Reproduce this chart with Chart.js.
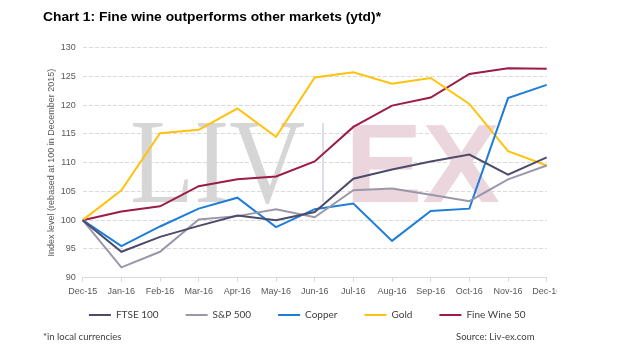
<!DOCTYPE html>
<html>
<head>
<meta charset="utf-8">
<script src="https://cdn.jsdelivr.net/npm/chart.js@4/dist/chart.umd.min.js"></script>
<style>
html,body{margin:0;padding:0;background:#fff;}
#wrap{width:620px;height:357px;position:relative;}
</style>
</head>
<body>
<div id="wrap"><canvas id="c" width="620" height="357"></canvas></div>
<script>
const categories = ['Dec-15','Jan-16','Feb-16','Mar-16','Apr-16','May-16','Jun-16','Jul-16','Aug-16','Sep-16','Oct-16','Nov-16','Dec-16'];
const ftse100   = [100, 94.5, 97.1, 99.0, 100.8, 100.0, 101.4, 107.2, 108.8, 110.2, 111.4, 107.9, 110.9];
const sp500     = [100, 91.8, 94.5, 100.1, 100.7, 101.9, 100.5, 105.2, 105.5, 104.4, 103.3, 107.1, 109.5];
const copper    = [100, 95.5, 98.9, 102.0, 103.9, 98.8, 101.9, 102.9, 96.4, 101.6, 102.0, 121.2, 123.5];
const gold      = [100, 105.2, 115.1, 115.7, 119.4, 114.5, 124.8, 125.7, 123.7, 124.7, 120.2, 112.0, 109.5];
const fineWine  = [100, 101.5, 102.4, 105.9, 107.1, 107.6, 110.2, 116.2, 119.9, 121.3, 125.4, 126.4, 126.3];
const yTicks = { min: 90, max: 130, step: 5 };

const titleText = 'Chart 1: Fine wine outperforms other markets (ytd)*';
const footLeft = '*in local currencies';
const footRight = 'Source: Liv-ex.com';

const SANS = '"Liberation Sans", Arial, sans-serif';
const LEG = 'Lato, "Liberation Sans", sans-serif';

const decor = {
  id: 'decor',
  afterLayout(chart) {
    const l = chart.legend;
    if (l) { l.top -= 12.7; l.bottom -= 12.7; l.left += 10.6; l.right += 10.6; }
  },
  beforeDraw(chart) {
    const ctx = chart.ctx;
    ctx.save();
    ctx.beginPath();
    ctx.rect(0, 0, 557, 357);
    ctx.clip();
    ctx.save();
    ctx.fillStyle = '#000';
    ctx.font = 'bold 12.2px ' + SANS;
    ctx.textBaseline = 'alphabetic';
    ctx.textAlign = 'left';
    const tw = ctx.measureText(titleText).width;
    ctx.translate(43, 20.5);
    ctx.scale(338 / tw, 1);
    ctx.fillText(titleText, 0, 0);
    ctx.restore();
    ctx.fillStyle = '#404040';
    ctx.font = '9.5px ' + LEG;
    ctx.textAlign = 'left';
    ctx.textBaseline = 'middle';
    ctx.fillText(footLeft, 43, 337);
    ctx.fillText(footRight, 456, 337);
  },
  beforeDatasetsDraw(chart) {
    const ctx = chart.ctx;
    ctx.save();
    ctx.textBaseline = 'alphabetic';
    ctx.textAlign = 'left';
    ctx.fillStyle = '#d6d6d6';
    ctx.font = '121px "Liberation Serif", "Times New Roman", serif';
    const w1 = ctx.measureText('LIV').width;
    ctx.translate(130, 202);
    ctx.scale(175 / w1, 1);
    ctx.fillText('LIV', 0, 0);
    ctx.restore();
    ctx.save();
    ctx.fillStyle = '#dedee6';
    ctx.fillRect(322, 123, 2, 79);
    ctx.textBaseline = 'alphabetic';
    ctx.textAlign = 'left';
    ctx.fillStyle = '#ecd6dd';
    ctx.font = 'bold 112px ' + SANS;
    const w2 = ctx.measureText('EX').width;
    ctx.translate(345, 202);
    ctx.scale(155 / w2, 1);
    ctx.fillText('EX', 0, 0);
    ctx.restore();
  },
  afterDraw(chart) {
    chart.ctx.restore();
  }
};

const mk = (label, data, color) => ({
  label, data,
  borderColor: color, backgroundColor: color,
  borderWidth: 2, pointRadius: 0, pointHoverRadius: 0, tension: 0,
  pointStyle: 'line'
});

new Chart(document.getElementById('c'), {
  type: 'line',
  data: {
    labels: categories,
    datasets: [
      mk('FTSE 100', ftse100, '#4d4b6b'),
      mk('S&P 500', sp500, '#9a97aa'),
      mk('Copper', copper, '#1e7dd6'),
      mk('Gold', gold, '#ffc20e'),
      mk('Fine Wine 50', fineWine, '#9c1c46')
    ]
  },
  plugins: [decor],
  options: {
    responsive: false,
    animation: false,
    events: [],
    layout: { padding: { left: 46.6, right: 73.3, top: 47.5, bottom: 14.3 } },
    plugins: {
      title: { display: false },
      tooltip: { enabled: false },
      legend: {
        position: 'bottom',
        labels: {
          usePointStyle: true,
          pointStyle: 'line',
          pointStyleWidth: 22,
          boxHeight: 10,
          padding: 27,
          color: '#404040',
          font: { family: LEG, size: 10 }
        }
      }
    },
    scales: {
      x: {
        offset: false,
        grid: { display: true, drawOnChartArea: false, drawTicks: true, tickLength: 4, color: '#d9d9d9' },
        border: { display: true, color: '#d9d9d9', width: 1 },
        ticks: { color: '#595959', font: { family: SANS, size: 9 }, padding: 4, maxRotation: 0, autoSkip: false },
        afterFit(scale) { scale.height = 18; scale.paddingRight = 0; scale.paddingLeft = 0; }
      },
      y: {
        min: yTicks.min, max: yTicks.max,
        grid: { color: '#dadada', drawTicks: false, lineWidth: 1 },
        border: { display: false, dash: [4, 2] },
        ticks: { stepSize: yTicks.step, color: '#595959', font: { family: SANS, size: 9 }, padding: 7 },
        title: {
          display: true,
          text: 'Index level (rebased at 100 in December 2015)',
          color: '#595959',
          font: { family: SANS, size: 9 },
          padding: 0
        },
        afterFit(scale) { scale.width = 36.1; scale.paddingTop = 0; scale.paddingBottom = 0; }
      }
    }
  }
});
</script>
</body>
</html>
